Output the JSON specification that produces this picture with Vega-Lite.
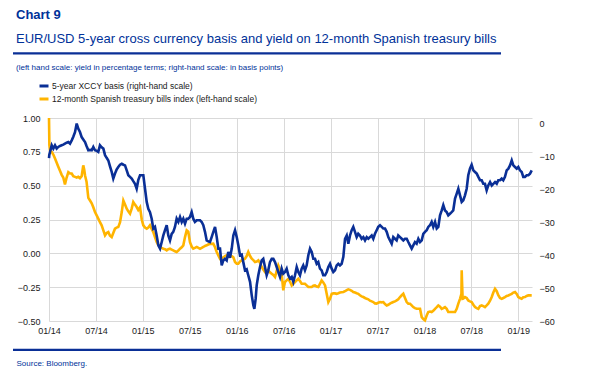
{
  "$schema": "https://vega.github.io/schema/vega-lite/v6.json",
  "width": 483,
  "height": 203,
  "autosize": {"type": "none"},
  "padding": {"left": 49, "top": 118, "right": 58, "bottom": 63},
  "background": "white",
  "config": {
    "font": "Liberation Sans",
    "view": {"stroke": null},
    "axis": {"labelFont": "Liberation Sans", "labelFontSize": 9, "labelColor": "#1a1a1a", "domain": false, "ticks": false, "gridColor": "#d9d9d9", "gridWidth": 1}
  },
  "title": {
    "text": "Chart 9",
    "subtitle": "EUR/USD 5-year cross currency basis and yield on 12-month Spanish treasury bills",
    "anchor": "start",
    "frame": "group",
    "dx": -33,
    "offset": 6,
    "font": "Liberation Sans",
    "fontSize": 13,
    "fontWeight": "bold",
    "color": "#003299",
    "subtitleFont": "Liberation Sans",
    "subtitleFontSize": 13,
    "subtitleColor": "#003299",
    "subtitlePadding": 11
  },
  "datasets": {
    "bills": [
      {"t":2014.000,"pct":1.00},{"t":2014.004,"pct":0.80},{"t":2014.011,"pct":0.76},{"t":2014.029,"pct":0.75},{"t":2014.046,"pct":0.73},{"t":2014.064,"pct":0.70},{"t":2014.082,"pct":0.67},{"t":2014.099,"pct":0.64},{"t":2014.117,"pct":0.61},{"t":2014.135,"pct":0.58},{"t":2014.152,"pct":0.56},{"t":2014.170,"pct":0.51},{"t":2014.188,"pct":0.56},{"t":2014.206,"pct":0.60},{"t":2014.224,"pct":0.59},{"t":2014.242,"pct":0.59},{"t":2014.259,"pct":0.57},{"t":2014.277,"pct":0.565},{"t":2014.295,"pct":0.56},{"t":2014.312,"pct":0.565},{"t":2014.330,"pct":0.555},{"t":2014.348,"pct":0.57},{"t":2014.365,"pct":0.65},{"t":2014.375,"pct":0.62},{"t":2014.384,"pct":0.575},{"t":2014.400,"pct":0.53},{"t":2014.419,"pct":0.41},{"t":2014.437,"pct":0.39},{"t":2014.455,"pct":0.37},{"t":2014.472,"pct":0.34},{"t":2014.490,"pct":0.305},{"t":2014.508,"pct":0.28},{"t":2014.525,"pct":0.256},{"t":2014.543,"pct":0.23},{"t":2014.561,"pct":0.207},{"t":2014.579,"pct":0.17},{"t":2014.597,"pct":0.133},{"t":2014.614,"pct":0.15},{"t":2014.632,"pct":0.157},{"t":2014.650,"pct":0.13},{"t":2014.668,"pct":0.12},{"t":2014.685,"pct":0.15},{"t":2014.703,"pct":0.182},{"t":2014.720,"pct":0.19},{"t":2014.738,"pct":0.194},{"t":2014.757,"pct":0.23},{"t":2014.775,"pct":0.305},{"t":2014.792,"pct":0.39},{"t":2014.810,"pct":0.36},{"t":2014.828,"pct":0.33},{"t":2014.845,"pct":0.31},{"t":2014.863,"pct":0.293},{"t":2014.881,"pct":0.33},{"t":2014.898,"pct":0.379},{"t":2014.916,"pct":0.36},{"t":2014.934,"pct":0.342},{"t":2014.951,"pct":0.32},{"t":2014.970,"pct":0.34},{"t":2014.988,"pct":0.25},
      {"t":2015.005,"pct":0.207},{"t":2015.023,"pct":0.19},{"t":2015.041,"pct":0.182},{"t":2015.058,"pct":0.19},{"t":2015.076,"pct":0.207},{"t":2015.094,"pct":0.18},{"t":2015.111,"pct":0.157},{"t":2015.129,"pct":0.12},{"t":2015.147,"pct":0.083},{"t":2015.165,"pct":0.06},{"t":2015.183,"pct":0.047},{"t":2015.201,"pct":0.04},{"t":2015.218,"pct":0.034},{"t":2015.236,"pct":0.03},{"t":2015.254,"pct":0.022},{"t":2015.271,"pct":0.03},{"t":2015.289,"pct":0.034},{"t":2015.307,"pct":0.028},{"t":2015.324,"pct":0.022},{"t":2015.342,"pct":0.015},{"t":2015.360,"pct":0.01},{"t":2015.378,"pct":0.02},{"t":2015.396,"pct":0.034},{"t":2015.414,"pct":0.045},{"t":2015.431,"pct":0.059},{"t":2015.449,"pct":0.12},{"t":2015.467,"pct":0.17},{"t":2015.484,"pct":0.16},{"t":2015.502,"pct":0.083},{"t":2015.520,"pct":0.05},{"t":2015.537,"pct":0.034},{"t":2015.555,"pct":0.04},{"t":2015.574,"pct":0.047},{"t":2015.592,"pct":0.04},{"t":2015.609,"pct":0.034},{"t":2015.627,"pct":0.04},{"t":2015.644,"pct":0.047},{"t":2015.662,"pct":0.055},{"t":2015.680,"pct":0.059},{"t":2015.697,"pct":0.065},{"t":2015.715,"pct":0.071},{"t":2015.733,"pct":0.07},{"t":2015.750,"pct":0.071},{"t":2015.769,"pct":0.045},{"t":2015.787,"pct":0.01},{"t":2015.804,"pct":-0.015},{"t":2015.822,"pct":-0.04},{"t":2015.840,"pct":-0.035},{"t":2015.857,"pct":-0.03},{"t":2015.875,"pct":-0.02},{"t":2015.893,"pct":-0.015},{"t":2015.910,"pct":-0.015},{"t":2015.928,"pct":-0.015},{"t":2015.947,"pct":-0.02},{"t":2015.964,"pct":-0.03},{"t":2015.982,"pct":-0.064},
      {"t":2016.000,"pct":-0.077},{"t":2016.017,"pct":-0.077},{"t":2016.035,"pct":-0.06},{"t":2016.053,"pct":-0.052},{"t":2016.070,"pct":-0.045},{"t":2016.088,"pct":-0.04},{"t":2016.106,"pct":-0.02},{"t":2016.123,"pct":0.01},{"t":2016.142,"pct":-0.02},{"t":2016.160,"pct":-0.04},{"t":2016.177,"pct":-0.05},{"t":2016.195,"pct":-0.064},{"t":2016.213,"pct":-0.06},{"t":2016.230,"pct":-0.052},{"t":2016.248,"pct":-0.07},{"t":2016.266,"pct":-0.101},{"t":2016.283,"pct":-0.12},{"t":2016.301,"pct":-0.138},{"t":2016.319,"pct":-0.13},{"t":2016.336,"pct":-0.126},{"t":2016.354,"pct":-0.14},{"t":2016.373,"pct":-0.151},{"t":2016.390,"pct":-0.16},{"t":2016.408,"pct":-0.175},{"t":2016.426,"pct":-0.13},{"t":2016.443,"pct":-0.089},{"t":2016.461,"pct":-0.12},{"t":2016.479,"pct":-0.151},{"t":2016.496,"pct":-0.273},{"t":2016.514,"pct":-0.212},{"t":2016.532,"pct":-0.2},{"t":2016.550,"pct":-0.188},{"t":2016.568,"pct":-0.21},{"t":2016.586,"pct":-0.237},{"t":2016.603,"pct":-0.225},{"t":2016.621,"pct":-0.212},{"t":2016.639,"pct":-0.2},{"t":2016.656,"pct":-0.188},{"t":2016.674,"pct":-0.205},{"t":2016.692,"pct":-0.225},{"t":2016.709,"pct":-0.225},{"t":2016.727,"pct":-0.225},{"t":2016.745,"pct":-0.237},{"t":2016.763,"pct":-0.249},{"t":2016.781,"pct":-0.249},{"t":2016.799,"pct":-0.249},{"t":2016.816,"pct":-0.24},{"t":2016.834,"pct":-0.237},{"t":2016.852,"pct":-0.245},{"t":2016.869,"pct":-0.249},{"t":2016.887,"pct":-0.225},{"t":2016.905,"pct":-0.2},{"t":2016.922,"pct":-0.215},{"t":2016.941,"pct":-0.237},{"t":2016.959,"pct":-0.3},{"t":2016.976,"pct":-0.36},{"t":2016.994,"pct":-0.335},
      {"t":2017.012,"pct":-0.299},{"t":2017.029,"pct":-0.296},{"t":2017.047,"pct":-0.296},{"t":2017.065,"pct":-0.299},{"t":2017.082,"pct":-0.295},{"t":2017.100,"pct":-0.29},{"t":2017.118,"pct":-0.288},{"t":2017.136,"pct":-0.286},{"t":2017.154,"pct":-0.28},{"t":2017.172,"pct":-0.272},{"t":2017.189,"pct":-0.266},{"t":2017.207,"pct":-0.27},{"t":2017.225,"pct":-0.277},{"t":2017.242,"pct":-0.286},{"t":2017.260,"pct":-0.29},{"t":2017.278,"pct":-0.295},{"t":2017.295,"pct":-0.299},{"t":2017.313,"pct":-0.31},{"t":2017.331,"pct":-0.318},{"t":2017.349,"pct":-0.323},{"t":2017.367,"pct":-0.33},{"t":2017.385,"pct":-0.336},{"t":2017.402,"pct":-0.34},{"t":2017.420,"pct":-0.35},{"t":2017.438,"pct":-0.355},{"t":2017.455,"pct":-0.36},{"t":2017.473,"pct":-0.37},{"t":2017.491,"pct":-0.372},{"t":2017.508,"pct":-0.365},{"t":2017.527,"pct":-0.36},{"t":2017.545,"pct":-0.362},{"t":2017.562,"pct":-0.36},{"t":2017.580,"pct":-0.375},{"t":2017.598,"pct":-0.385},{"t":2017.615,"pct":-0.38},{"t":2017.633,"pct":-0.372},{"t":2017.651,"pct":-0.365},{"t":2017.668,"pct":-0.36},{"t":2017.686,"pct":-0.355},{"t":2017.704,"pct":-0.348},{"t":2017.721,"pct":-0.34},{"t":2017.740,"pct":-0.323},{"t":2017.758,"pct":-0.31},{"t":2017.775,"pct":-0.299},{"t":2017.793,"pct":-0.33},{"t":2017.811,"pct":-0.36},{"t":2017.828,"pct":-0.372},{"t":2017.846,"pct":-0.372},{"t":2017.864,"pct":-0.385},{"t":2017.881,"pct":-0.397},{"t":2017.899,"pct":-0.405},{"t":2017.917,"pct":-0.41},{"t":2017.935,"pct":-0.41},{"t":2017.953,"pct":-0.41},{"t":2017.971,"pct":-0.471},{"t":2017.988,"pct":-0.485},
      {"t":2018.006,"pct":-0.495},{"t":2018.024,"pct":-0.46},{"t":2018.041,"pct":-0.434},{"t":2018.059,"pct":-0.43},{"t":2018.077,"pct":-0.434},{"t":2018.094,"pct":-0.425},{"t":2018.113,"pct":-0.41},{"t":2018.131,"pct":-0.398},{"t":2018.148,"pct":-0.385},{"t":2018.166,"pct":-0.395},{"t":2018.184,"pct":-0.41},{"t":2018.201,"pct":-0.405},{"t":2018.219,"pct":-0.397},{"t":2018.237,"pct":-0.41},{"t":2018.254,"pct":-0.434},{"t":2018.272,"pct":-0.434},{"t":2018.290,"pct":-0.434},{"t":2018.307,"pct":-0.434},{"t":2018.326,"pct":-0.434},{"t":2018.344,"pct":-0.41},{"t":2018.361,"pct":-0.372},{"t":2018.379,"pct":-0.336},{"t":2018.394,"pct":-0.30},{"t":2018.397,"pct":-0.125},{"t":2018.400,"pct":-0.20},{"t":2018.407,"pct":-0.336},{"t":2018.414,"pct":-0.335},{"t":2018.432,"pct":-0.323},{"t":2018.450,"pct":-0.33},{"t":2018.467,"pct":-0.348},{"t":2018.485,"pct":-0.355},{"t":2018.503,"pct":-0.36},{"t":2018.521,"pct":-0.38},{"t":2018.539,"pct":-0.397},{"t":2018.557,"pct":-0.405},{"t":2018.574,"pct":-0.41},{"t":2018.592,"pct":-0.39},{"t":2018.610,"pct":-0.385},{"t":2018.627,"pct":-0.39},{"t":2018.645,"pct":-0.397},{"t":2018.663,"pct":-0.385},{"t":2018.680,"pct":-0.372},{"t":2018.699,"pct":-0.35},{"t":2018.717,"pct":-0.323},{"t":2018.734,"pct":-0.29},{"t":2018.752,"pct":-0.262},{"t":2018.770,"pct":-0.28},{"t":2018.787,"pct":-0.31},{"t":2018.805,"pct":-0.33},{"t":2018.823,"pct":-0.336},{"t":2018.840,"pct":-0.33},{"t":2018.858,"pct":-0.323},{"t":2018.876,"pct":-0.315},{"t":2018.894,"pct":-0.311},{"t":2018.912,"pct":-0.305},{"t":2018.930,"pct":-0.299},{"t":2018.947,"pct":-0.29},{"t":2018.965,"pct":-0.286},{"t":2018.983,"pct":-0.30},
      {"t":2019.000,"pct":-0.323},{"t":2019.018,"pct":-0.33},{"t":2019.036,"pct":-0.336},{"t":2019.053,"pct":-0.325},{"t":2019.071,"pct":-0.323},{"t":2019.089,"pct":-0.315},{"t":2019.107,"pct":-0.311},{"t":2019.125,"pct":-0.311},{"t":2019.143,"pct":-0.311}
    ],
    "xccy": [
      {"t":2014.000,"bp":-10.5},{"t":2014.003,"bp":-9.5},{"t":2014.011,"bp":-8.6},{"t":2014.029,"bp":-6.6},{"t":2014.046,"bp":-7.6},{"t":2014.064,"bp":-6.6},{"t":2014.082,"bp":-7.6},{"t":2014.099,"bp":-7.1},{"t":2014.117,"bp":-6.8},{"t":2014.135,"bp":-6.6},{"t":2014.152,"bp":-6.4},{"t":2014.170,"bp":-6.1},{"t":2014.188,"bp":-5.8},{"t":2014.206,"bp":-5.6},{"t":2014.224,"bp":-6.1},{"t":2014.242,"bp":-5.1},{"t":2014.259,"bp":-4.0},{"t":2014.277,"bp":-2.6},{"t":2014.295,"bp":0.0},{"t":2014.312,"bp":-1.55},{"t":2014.330,"bp":-2.55},{"t":2014.348,"bp":-4.1},{"t":2014.365,"bp":-4.8},{"t":2014.384,"bp":-5.6},{"t":2014.400,"bp":-6.8},{"t":2014.419,"bp":-8.1},{"t":2014.437,"bp":-8.0},{"t":2014.455,"bp":-8.1},{"t":2014.472,"bp":-7.1},{"t":2014.490,"bp":-8.1},{"t":2014.508,"bp":-8.3},{"t":2014.525,"bp":-8.6},{"t":2014.543,"bp":-6.6},{"t":2014.561,"bp":-7.2},{"t":2014.579,"bp":-7.6},{"t":2014.597,"bp":-9.6},{"t":2014.614,"bp":-10.4},{"t":2014.632,"bp":-11.2},{"t":2014.650,"bp":-13.0},{"t":2014.668,"bp":-14.7},{"t":2014.685,"bp":-16.7},{"t":2014.703,"bp":-15.2},{"t":2014.720,"bp":-14.0},{"t":2014.738,"bp":-13.2},{"t":2014.757,"bp":-12.5},{"t":2014.775,"bp":-12.2},{"t":2014.792,"bp":-12.5},{"t":2014.810,"bp":-12.7},{"t":2014.828,"bp":-14.2},{"t":2014.845,"bp":-15.7},{"t":2014.863,"bp":-16.2},{"t":2014.881,"bp":-16.7},{"t":2014.898,"bp":-17.5},{"t":2014.916,"bp":-18.3},{"t":2014.934,"bp":-19.8},{"t":2014.951,"bp":-17.2},{"t":2014.970,"bp":-15.7},{"t":2014.988,"bp":-15.7},
      {"t":2015.005,"bp":-15.7},{"t":2015.023,"bp":-19.8},{"t":2015.041,"bp":-23.8},{"t":2015.058,"bp":-25.9},{"t":2015.076,"bp":-26.9},{"t":2015.094,"bp":-28.9},{"t":2015.111,"bp":-31.9},{"t":2015.129,"bp":-31.4},{"t":2015.147,"bp":-34.0},{"t":2015.165,"bp":-37.0},{"t":2015.183,"bp":-38.0},{"t":2015.201,"bp":-36.0},{"t":2015.218,"bp":-34.0},{"t":2015.236,"bp":-32.4},{"t":2015.254,"bp":-30.9},{"t":2015.271,"bp":-34.0},{"t":2015.289,"bp":-35.5},{"t":2015.307,"bp":-33.5},{"t":2015.324,"bp":-32.9},{"t":2015.342,"bp":-31.4},{"t":2015.360,"bp":-28.9},{"t":2015.378,"bp":-29.9},{"t":2015.396,"bp":-28.4},{"t":2015.414,"bp":-29.9},{"t":2015.431,"bp":-28.9},{"t":2015.449,"bp":-30.4},{"t":2015.467,"bp":-28.9},{"t":2015.484,"bp":-28.9},{"t":2015.502,"bp":-28.4},{"t":2015.520,"bp":-26.9},{"t":2015.537,"bp":-28.9},{"t":2015.555,"bp":-29.9},{"t":2015.574,"bp":-29.4},{"t":2015.592,"bp":-29.4},{"t":2015.609,"bp":-29.4},{"t":2015.627,"bp":-29.9},{"t":2015.644,"bp":-30.9},{"t":2015.662,"bp":-32.9},{"t":2015.680,"bp":-35.5},{"t":2015.697,"bp":-35.8},{"t":2015.715,"bp":-36.0},{"t":2015.733,"bp":-34.5},{"t":2015.750,"bp":-33.0},{"t":2015.769,"bp":-31.4},{"t":2015.787,"bp":-34.5},{"t":2015.804,"bp":-38.0},{"t":2015.822,"bp":-38.0},{"t":2015.840,"bp":-43.1},{"t":2015.857,"bp":-41.6},{"t":2015.875,"bp":-41.1},{"t":2015.893,"bp":-41.6},{"t":2015.910,"bp":-39.0},{"t":2015.928,"bp":-40.8},{"t":2015.947,"bp":-38.0},{"t":2015.964,"bp":-34.0},{"t":2015.982,"bp":-32.4},
      {"t":2016.000,"bp":-34.5},{"t":2016.017,"bp":-37.0},{"t":2016.035,"bp":-40.0},{"t":2016.053,"bp":-39.8},{"t":2016.070,"bp":-42.1},{"t":2016.088,"bp":-44.6},{"t":2016.106,"bp":-44.3},{"t":2016.123,"bp":-46.1},{"t":2016.142,"bp":-48.1},{"t":2016.160,"bp":-52.2},{"t":2016.177,"bp":-55.2},{"t":2016.188,"bp":-56.3},{"t":2016.202,"bp":-53.2},{"t":2016.213,"bp":-49.1},{"t":2016.230,"bp":-46.1},{"t":2016.248,"bp":-43.6},{"t":2016.266,"bp":-41.6},{"t":2016.283,"bp":-41.1},{"t":2016.301,"bp":-43.6},{"t":2016.319,"bp":-46.1},{"t":2016.336,"bp":-44.6},{"t":2016.354,"bp":-42.1},{"t":2016.373,"bp":-41.1},{"t":2016.390,"bp":-41.1},{"t":2016.408,"bp":-42.1},{"t":2016.426,"bp":-43.6},{"t":2016.443,"bp":-45.1},{"t":2016.461,"bp":-46.6},{"t":2016.479,"bp":-44.1},{"t":2016.496,"bp":-45.6},{"t":2016.514,"bp":-45.1},{"t":2016.532,"bp":-44.1},{"t":2016.550,"bp":-46.1},{"t":2016.568,"bp":-47.1},{"t":2016.586,"bp":-46.6},{"t":2016.603,"bp":-48.1},{"t":2016.621,"bp":-46.1},{"t":2016.639,"bp":-43.6},{"t":2016.656,"bp":-45.1},{"t":2016.674,"bp":-46.1},{"t":2016.692,"bp":-44.1},{"t":2016.709,"bp":-43.1},{"t":2016.727,"bp":-44.6},{"t":2016.745,"bp":-43.1},{"t":2016.763,"bp":-40.0},{"t":2016.781,"bp":-38.0},{"t":2016.799,"bp":-39.0},{"t":2016.816,"bp":-41.1},{"t":2016.834,"bp":-41.1},{"t":2016.852,"bp":-42.6},{"t":2016.869,"bp":-42.1},{"t":2016.887,"bp":-44.1},{"t":2016.905,"bp":-44.6},{"t":2016.922,"bp":-46.1},{"t":2016.941,"bp":-46.1},{"t":2016.959,"bp":-45.1},{"t":2016.976,"bp":-43.6},{"t":2016.994,"bp":-42.6},
      {"t":2017.012,"bp":-44.1},{"t":2017.029,"bp":-45.1},{"t":2017.047,"bp":-44.6},{"t":2017.065,"bp":-43.1},{"t":2017.082,"bp":-42.6},{"t":2017.100,"bp":-43.1},{"t":2017.118,"bp":-42.6},{"t":2017.136,"bp":-40.5},{"t":2017.154,"bp":-35.0},{"t":2017.172,"bp":-34.0},{"t":2017.189,"bp":-36.5},{"t":2017.207,"bp":-34.0},{"t":2017.225,"bp":-32.4},{"t":2017.242,"bp":-31.4},{"t":2017.260,"bp":-32.9},{"t":2017.278,"bp":-34.5},{"t":2017.295,"bp":-33.5},{"t":2017.313,"bp":-34.0},{"t":2017.331,"bp":-35.0},{"t":2017.349,"bp":-34.5},{"t":2017.367,"bp":-35.5},{"t":2017.385,"bp":-34.5},{"t":2017.402,"bp":-35.0},{"t":2017.420,"bp":-34.5},{"t":2017.438,"bp":-34.0},{"t":2017.455,"bp":-35.0},{"t":2017.473,"bp":-33.5},{"t":2017.491,"bp":-32.4},{"t":2017.508,"bp":-31.4},{"t":2017.527,"bp":-30.9},{"t":2017.545,"bp":-31.4},{"t":2017.562,"bp":-31.9},{"t":2017.580,"bp":-31.9},{"t":2017.598,"bp":-32.9},{"t":2017.615,"bp":-34.5},{"t":2017.633,"bp":-35.5},{"t":2017.651,"bp":-36.5},{"t":2017.668,"bp":-34.5},{"t":2017.686,"bp":-35.0},{"t":2017.704,"bp":-35.5},{"t":2017.721,"bp":-34.0},{"t":2017.740,"bp":-34.5},{"t":2017.758,"bp":-35.0},{"t":2017.775,"bp":-35.5},{"t":2017.793,"bp":-35.0},{"t":2017.811,"bp":-35.0},{"t":2017.828,"bp":-36.0},{"t":2017.846,"bp":-37.0},{"t":2017.864,"bp":-38.0},{"t":2017.881,"bp":-37.0},{"t":2017.899,"bp":-36.0},{"t":2017.917,"bp":-36.5},{"t":2017.935,"bp":-35.0},{"t":2017.953,"bp":-36.0},{"t":2017.971,"bp":-35.5},{"t":2017.988,"bp":-33.5},
      {"t":2018.006,"bp":-32.9},{"t":2018.024,"bp":-32.4},{"t":2018.041,"bp":-31.4},{"t":2018.059,"bp":-30.9},{"t":2018.077,"bp":-29.9},{"t":2018.094,"bp":-31.4},{"t":2018.113,"bp":-29.9},{"t":2018.131,"bp":-31.9},{"t":2018.148,"bp":-31.4},{"t":2018.166,"bp":-27.9},{"t":2018.184,"bp":-26.4},{"t":2018.201,"bp":-24.8},{"t":2018.219,"bp":-26.4},{"t":2018.237,"bp":-26.9},{"t":2018.254,"bp":-27.9},{"t":2018.272,"bp":-27.4},{"t":2018.290,"bp":-26.9},{"t":2018.307,"bp":-26.4},{"t":2018.326,"bp":-22.8},{"t":2018.344,"bp":-21.3},{"t":2018.361,"bp":-19.8},{"t":2018.379,"bp":-21.8},{"t":2018.397,"bp":-23.8},{"t":2018.414,"bp":-23.3},{"t":2018.432,"bp":-21.8},{"t":2018.450,"bp":-19.8},{"t":2018.467,"bp":-15.7},{"t":2018.485,"bp":-13.7},{"t":2018.503,"bp":-12.5},{"t":2018.521,"bp":-14.2},{"t":2018.539,"bp":-14.7},{"t":2018.557,"bp":-15.2},{"t":2018.574,"bp":-16.2},{"t":2018.592,"bp":-17.2},{"t":2018.610,"bp":-17.2},{"t":2018.627,"bp":-18.3},{"t":2018.645,"bp":-18.3},{"t":2018.663,"bp":-20.3},{"t":2018.680,"bp":-18.8},{"t":2018.699,"bp":-17.8},{"t":2018.717,"bp":-18.8},{"t":2018.734,"bp":-18.3},{"t":2018.752,"bp":-17.8},{"t":2018.770,"bp":-18.3},{"t":2018.787,"bp":-17.2},{"t":2018.805,"bp":-17.2},{"t":2018.823,"bp":-16.7},{"t":2018.840,"bp":-17.2},{"t":2018.858,"bp":-16.2},{"t":2018.876,"bp":-14.2},{"t":2018.894,"bp":-13.7},{"t":2018.912,"bp":-12.7},{"t":2018.930,"bp":-11.2},{"t":2018.947,"bp":-12.7},{"t":2018.965,"bp":-13.2},{"t":2018.983,"bp":-13.7},
      {"t":2019.000,"bp":-13.2},{"t":2019.018,"bp":-14.2},{"t":2019.036,"bp":-14.7},{"t":2019.053,"bp":-16.2},{"t":2019.071,"bp":-16.2},{"t":2019.089,"bp":-15.7},{"t":2019.107,"bp":-15.7},{"t":2019.125,"bp":-15.2},{"t":2019.143,"bp":-14.2}
    ],
    "frame": [{"part": "top"}]
  },
  "resolve": {"scale": {"y": "independent"}, "axis": {"y": "independent"}},
  "layer": [
    {
      "data": {"name": "bills"},
      "mark": {"type": "line", "strokeWidth": 2.6, "interpolate": "linear"},
      "encoding": {
        "x": {"field": "t", "type": "quantitative",
          "scale": {"domain": [2014, 2019.146], "nice": false, "zero": false},
          "axis": {"values": [2014, 2014.5, 2015, 2015.5, 2016, 2016.5, 2017, 2017.5, 2018, 2018.5, 2019],
            "labelExpr": "(datum.value % 1 == 0 ? '01/' : '07/') + substring(toString(floor(datum.value)), 2)",
            "grid": true, "labelPadding": 5, "labelFlush": false, "labelOverlap": false,
            "title": "Source: Bloomberg.", "titleFont": "Liberation Sans", "titleFontSize": 8, "titleFontWeight": "normal", "titleColor": "#003299",
            "titleAnchor": "start", "titleAlign": "left", "titleBaseline": "middle", "titleX": -33, "titleY": 42}},
        "y": {"field": "pct", "type": "quantitative",
          "scale": {"domain": [-0.5, 1], "nice": false, "zero": false},
          "axis": {"orient": "left", "values": [-0.5, -0.25, 0, 0.25, 0.5, 0.75, 1], "format": ".2f", "grid": true, "labelPadding": 9, "title": null}},
        "color": {"datum": "12-month Spanish treasury bills index (left-hand scale)", "type": "nominal",
          "scale": {"domain": ["5-year XCCY basis (right-hand scale)", "12-month Spanish treasury bills index (left-hand scale)"], "range": ["#0a2f96", "#ffb400"]},
          "legend": {"orient": "none", "legendX": -33, "legendY": -54, "padding": 0,
            "title": "(left hand scale: yield in percentage terms; right-hand scale: in basis points)",
            "titleFont": "Liberation Sans", "titleFontSize": 8, "titleFontWeight": "normal", "titleColor": "#003299", "titleLimit": 400, "titlePadding": 8,
            "symbolType": "stroke", "symbolSize": 81, "symbolStrokeWidth": 3, "symbolOffset": 22,
            "labelFont": "Liberation Sans", "labelFontSize": 8.5, "labelColor": "#1a1a1a", "labelOffset": 2, "labelLimit": 400, "rowPadding": 1}}
      }
    },
    {
      "data": {"name": "xccy"},
      "mark": {"type": "line", "strokeWidth": 2.6, "interpolate": "linear"},
      "encoding": {
        "x": {"field": "t", "type": "quantitative"},
        "y": {"field": "bp", "type": "quantitative",
          "scale": {"domain": [-60, 1.7], "nice": false, "zero": false},
          "axis": {"orient": "right", "values": [-60, -50, -40, -30, -20, -10, 0], "grid": false, "labelPadding": 7, "title": null}},
        "color": {"datum": "5-year XCCY basis (right-hand scale)", "type": "nominal"}
      }
    },
    {
      "data": {"name": "frame"},
      "mark": {"type": "rule", "color": "#0a2f96", "strokeWidth": 2.2},
      "encoding": {
        "x": {"datum": 2013.6165, "type": "quantitative"},
        "x2": {"datum": 2018.8157},
        "y": {"datum": 1.478, "type": "quantitative", "scale": {"domain": [-0.5, 1], "nice": false, "zero": false}, "axis": null}
      }
    },
    {
      "data": {"name": "frame"},
      "mark": {"type": "rule", "color": "#0a2f96", "strokeWidth": 2.2},
      "encoding": {
        "x": {"datum": 2013.6165, "type": "quantitative"},
        "x2": {"datum": 2018.8157},
        "y": {"datum": -0.714, "type": "quantitative", "scale": {"domain": [-0.5, 1], "nice": false, "zero": false}, "axis": null}
      }
    }
  ]
}
